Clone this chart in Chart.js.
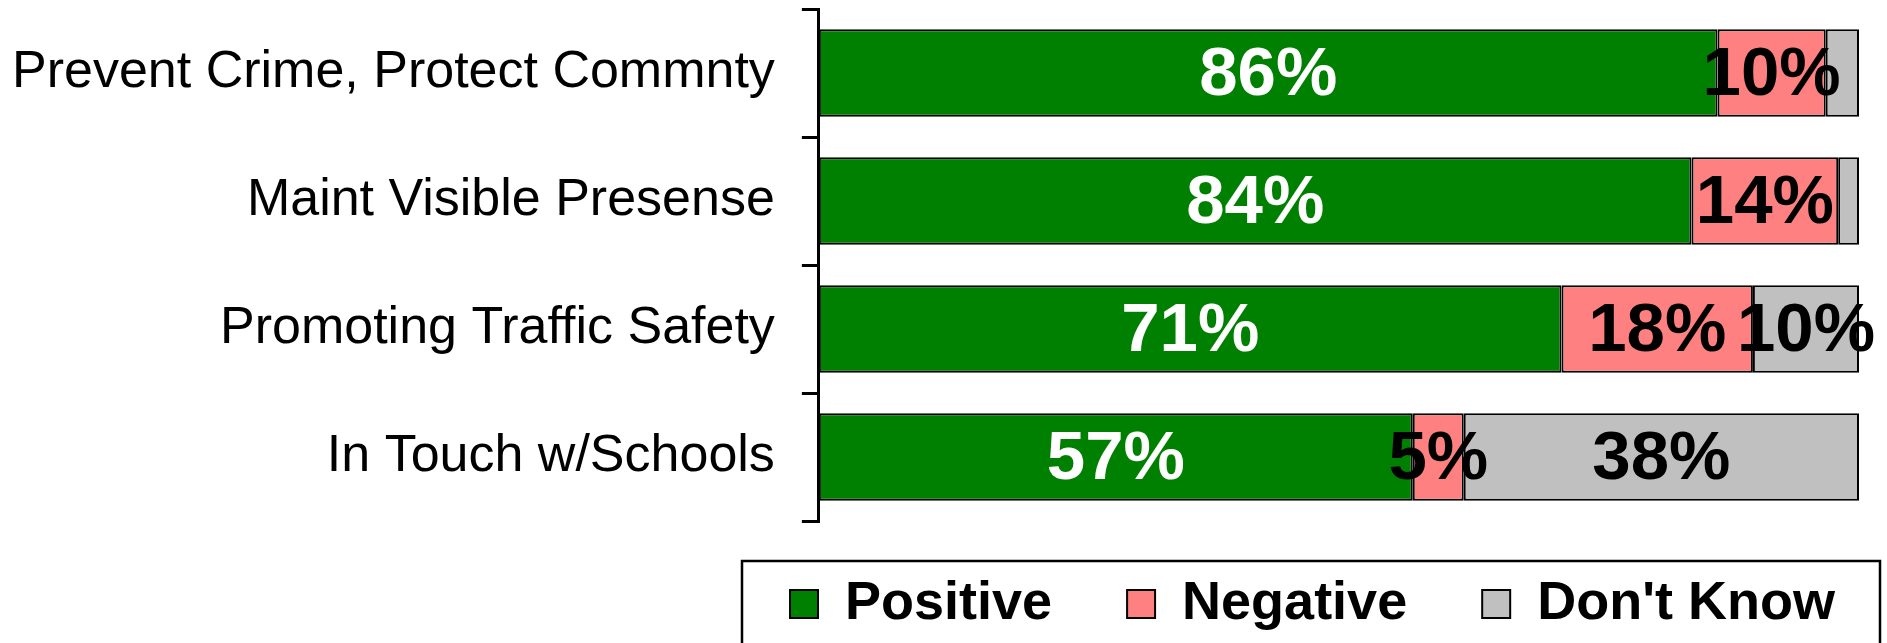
<!DOCTYPE html>
<html>
<head>
<meta charset="utf-8">
<script src="https://cdn.jsdelivr.net/npm/chart.js@4/dist/chart.umd.min.js"></script>
<style>
  html, body { margin: 0; padding: 0; background: #fff; }
  #wrap { width: 1887px; height: 643px; }
</style>
</head>
<body>
<div id="wrap"><canvas id="chart" width="1887" height="643"></canvas></div>
<script>
const categories = [
  "Prevent Crime, Protect Commnty",
  "Maint Visible Presense",
  "Promoting Traffic Safety",
  "In Touch w/Schools",
];
const positive = [86.4, 83.9, 71.4, 57.1];
const negative = [10.4, 14.1, 18.4, 4.9];
const dontKnow = [3.2, 2.0, 10.2, 38.0];

const seriesNames = ["Positive", "Negative", "Don't Know"];
const seriesColors = ["#008000", "#FF8080", "#C0C0C0"];
const labelColors = ["#FFFFFF", "#000000", "#000000"];

const FONT = '"Liberation Sans", Arial, sans-serif';

// percent labels in the middle of each segment
const pctLabels = {
  id: "pctLabels",
  afterDatasetsDraw(chart) {
    const ctx = chart.ctx;
    ctx.save();
    ctx.font = "bold 69px " + FONT;
    ctx.textAlign = "center";
    ctx.textBaseline = "middle";
    chart.data.datasets.forEach((ds, i) => {
      chart.getDatasetMeta(i).data.forEach((bar, j) => {
        const v = ds.data[j];
        if (v < 4) return; // tiny segments get no label
        ctx.fillStyle = labelColors[i];
        ctx.fillText(Math.round(v) + "%", (bar.x + bar.base) / 2, bar.y + 3);
      });
    });
    ctx.restore();
  },
};

// move the legend under the bars and put a frame round it
const legendFrame = {
  id: "legendFrame",
  afterUpdate(chart) {
    const lg = chart.legend;
    const h = lg.height;
    lg.left = 715;
    lg.right = 2200;
    lg.top = 502;
    lg.bottom = lg.top + h;
  },
  afterDraw(chart) {
    const ctx = chart.ctx;
    ctx.save();
    ctx.strokeStyle = "#000";
    ctx.lineWidth = 2.5;
    ctx.strokeRect(742, 561, 1138, 120);
    ctx.restore();
  },
};

new Chart(document.getElementById("chart"), {
  type: "bar",
  data: {
    labels: categories,
    datasets: [positive, negative, dontKnow].map((values, i) => ({
      label: seriesNames[i],
      data: values,
      backgroundColor: seriesColors[i],
      borderColor: "#000000",
      borderWidth: 2,
      borderSkipped: false,
      barPercentage: 0.685,
      categoryPercentage: 1,
    })),
  },
  options: {
    indexAxis: "y",
    responsive: false,
    animation: false,
    layout: {
      padding: { left: -15, right: 28, top: 9, bottom: -17 },
    },
    scales: {
      x: {
        stacked: true,
        min: 0,
        max: 100,
        display: false,
      },
      y: {
        stacked: true,
        afterFit(scale) {
          // no extra room above/below for the first and last label
          scale.paddingTop = 0;
          scale.paddingBottom = 0;
        },
        grid: {
          drawOnChartArea: false,
          drawTicks: true,
          tickLength: 17,
          color: "#000",
          lineWidth: 3,
        },
        border: { display: true, color: "#000", width: 3 },
        ticks: {
          color: "#000",
          padding: 27,
          font: { family: FONT, size: 52 },
        },
      },
    },
    plugins: {
      tooltip: { enabled: false },
      legend: {
        position: "bottom",
        align: "start",
        labels: {
          color: "#000",
          boxWidth: 28,
          boxHeight: 28,
          padding: 75,
          font: { family: FONT, size: 54, weight: "bold" },
        },
      },
    },
  },
  plugins: [pctLabels, legendFrame],
});
</script>
</body>
</html>
